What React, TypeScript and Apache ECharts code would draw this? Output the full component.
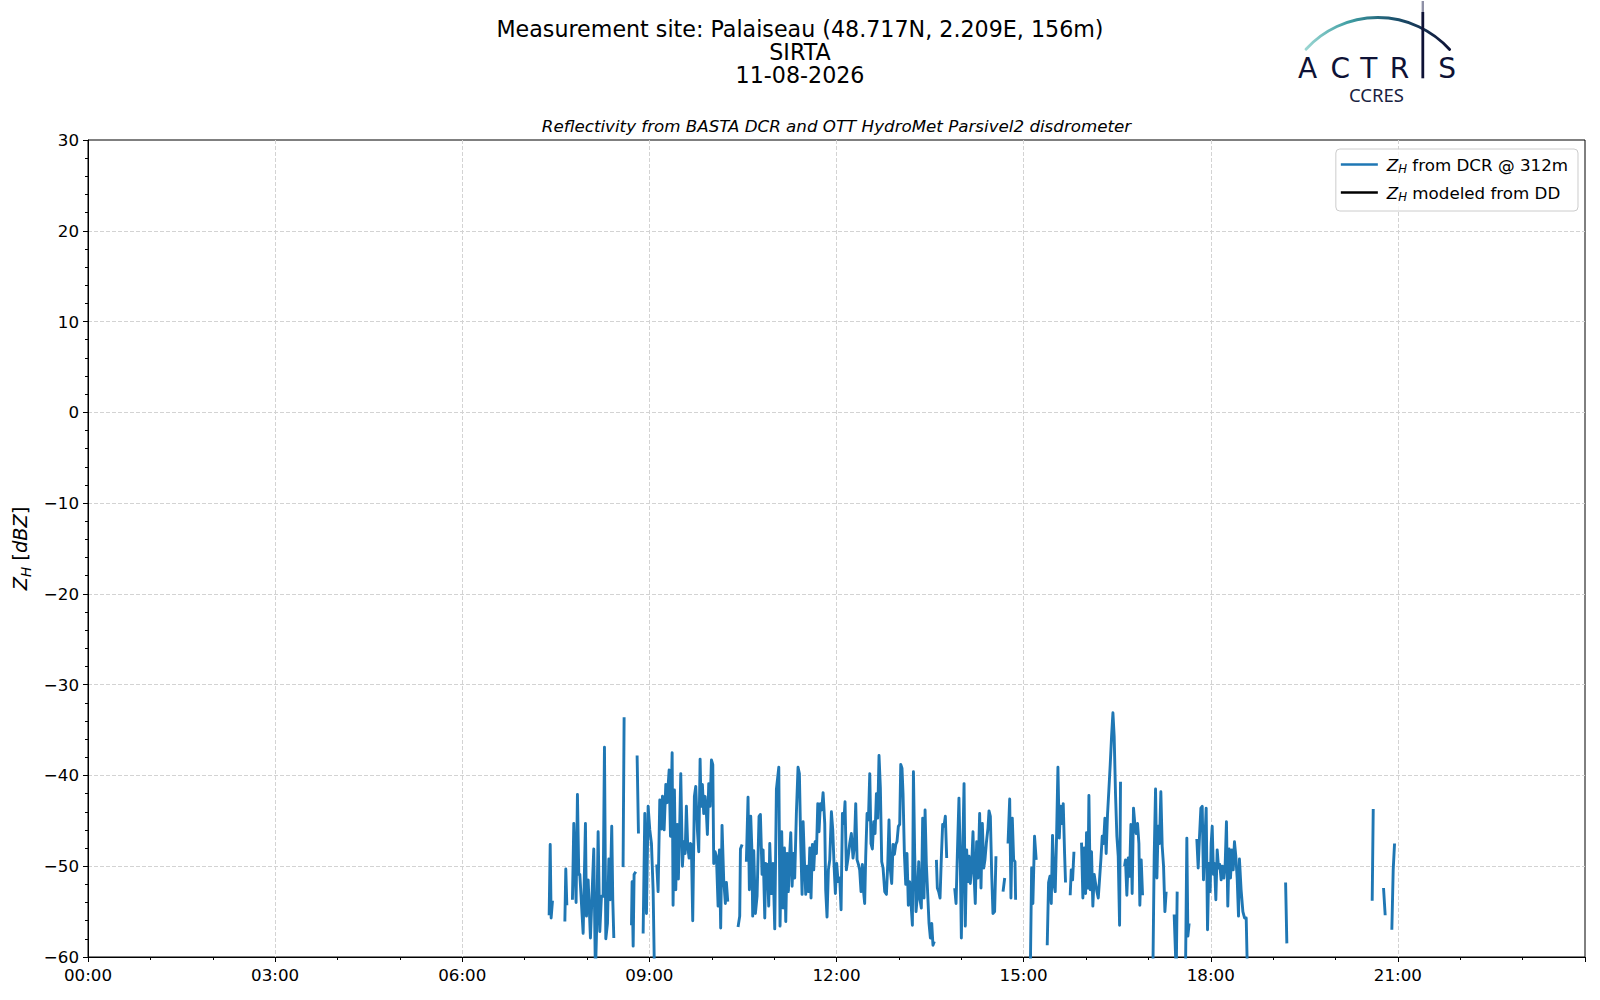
import React, { useEffect, useRef } from "react";
import * as echarts from "echarts";

// ---- tick labels ----
const xTickLabels = ["00:00", "03:00", "06:00", "09:00", "12:00", "15:00", "18:00", "21:00"];
const yTicks = [-60, -50, -40, -30, -20, -10, 0, 10, 20, 30];

// ---- title texts ----
const titleLines = ["Measurement site: Palaiseau (48.717N, 2.209E, 156m)", "SIRTA", "11-08-2026"];
const subTitle = "Reflectivity from BASTA DCR and OTT HydroMet Parsivel2 disdrometer";

// ---- Z_H from DCR @ 312m : [minutes since 00:00, dBZ] (segments separated by gaps) ----
const dcrSeg01 = [[443.6, -55.4], [444.6, -47.6], [445.5, -55.7], [446.8, -53.8]];
const dcrSeg02 = [[458.7, -56.1], [459.6, -50.3], [460.6, -54.3]];
const dcrSeg03 = [[466.0, -53.7], [467.3, -45.3], [469.5, -54.0], [470.8, -42.1], [472.1, -50.9], [473.1, -50.9], [476.3, -57.4], [478.5, -45.3], [479.5, -55.5], [481.1, -51.5], [483.3, -57.9], [486.5, -48.1], [488.1, -62], [489.4, -56.3], [490.7, -46.2], [492.3, -57.2], [493.9, -53.3], [495.5, -53.3], [496.8, -36.9], [498.1, -58.0], [499.7, -56.3], [501.0, -49.2], [502.2, -53.7], [503.8, -45.6], [504.8, -53.7], [505.8, -57.9]];
const dcrSeg04 = [[514.7, -50.1], [515.7, -33.6]];
const dcrSeg05 = [[522.8, -56.5], [523.4, -51.7], [524.4, -58.8], [525.3, -50.9], [526.9, -50.6]];
const dcrSeg06 = [[528.2, -37.8], [529.5, -46.4]];
const dcrSeg07 = [[534.0, -57.4], [535.6, -44.2], [537.2, -55.2], [538.8, -43.4], [540.4, -46.0], [542.0, -47.5], [543.6, -52.6], [544.9, -62]];
const dcrSeg08 = [[547.1, -49.8], [548.4, -52.8], [550.0, -42.7], [551.6, -45.9], [552.6, -42.3], [554.2, -46.0], [555.8, -41.0], [557.0, -43.0], [559.0, -39.4], [560.3, -46.7], [561.9, -37.5], [562.8, -54.3], [564.1, -41.6], [565.4, -52.6], [566.7, -45.4], [567.9, -51.4], [569.2, -45.4], [570.2, -39.8], [571.8, -50.0], [573.1, -47.3], [574.4, -48.6], [575.6, -43.4], [576.9, -47.8], [578.2, -49.1], [579.5, -47.5], [580.4, -47.6], [581.7, -56.0], [583.3, -42.3], [584.6, -41.2], [586.2, -46.0], [587.5, -48.4], [588.8, -38.2], [589.7, -43.4], [591.0, -41.0], [592.3, -44.2], [593.6, -42.3], [594.9, -44.3], [595.8, -46.5], [597.1, -40.9], [598.4, -43.4], [599.7, -38.3], [601.0, -38.8], [601.9, -49.7], [603.2, -48.4], [604.5, -48.9], [606.1, -54.4], [607.4, -48.2], [608.6, -56.8], [609.9, -45.5], [611.5, -51.5], [613.1, -54.1], [614.1, -51.8], [615.4, -53.9]];
const dcrSeg09 = [[625.3, -56.7], [626.9, -55.5], [627.6, -48.1], [629.2, -47.6]];
const dcrSeg10 = [[633.3, -49.5], [634.9, -42.4], [636.2, -52.6], [637.5, -44.5], [638.5, -47.8], [639.4, -55.5], [640.4, -48.3], [642.0, -55.2], [643.6, -53.3], [645.5, -44.5], [646.8, -44.3], [648.4, -50.9], [649.4, -48.2], [651.0, -55.7], [651.9, -49.7], [653.5, -49.8], [654.8, -54.4], [655.8, -47.5], [657.4, -53.0], [659.0, -49.7], [660.6, -56.9], [662.2, -41.5], [664.5, -39.1], [665.7, -56.6], [667.3, -46.2], [668.6, -54.6], [669.9, -48.0], [671.2, -56.1], [672.5, -48.6], [673.7, -52.8], [675.0, -48.6], [676.0, -46.3], [677.3, -52.2], [678.6, -48.6], [679.8, -51.3], [681.4, -44.2], [683.0, -39.1], [684.3, -39.8], [685.6, -47.5], [686.9, -53.1], [687.9, -45.1], [689.1, -49.3], [690.4, -53.1], [691.7, -50.0], [693.0, -52.8], [694.3, -48.0], [695.5, -53.5], [696.8, -47.6], [698.1, -50.4], [699.4, -47.3], [700.7, -48.6], [702.0, -43.1], [703.2, -46.2], [704.5, -43.1], [705.8, -43.8], [707.1, -41.9], [708.7, -45.3], [709.6, -52.6], [710.9, -55.6], [712.2, -50.4], [713.5, -49.3], [715.1, -44.0], [716.4, -46.0], [717.7, -50.0], [718.9, -53.0], [720.2, -49.7], [721.5, -51.7], [723.1, -51.3], [724.4, -54.8], [725.7, -44.2], [727.0, -45.3], [728.2, -42.9], [729.5, -50.4], [731.1, -49.1], [732.7, -47.5], [734.3, -46.4], [735.9, -49.1], [737.2, -47.8], [738.5, -43.1], [739.8, -49.3], [741.1, -49.8], [742.3, -50.4], [743.6, -52.8], [744.9, -49.8], [746.2, -53.0], [747.1, -54.1], [748.1, -48.9], [749.4, -44.2], [750.7, -44.9], [752.0, -39.8], [753.2, -47.5], [754.5, -48.1], [755.8, -45.1], [757.1, -46.4], [758.4, -42.0], [759.6, -44.7], [760.9, -37.8], [762.2, -41.4], [763.5, -49.5], [764.8, -50.2], [766.4, -52.8], [768.0, -53.1], [769.3, -49.8], [770.5, -44.9], [771.8, -50.4], [773.1, -51.9], [774.4, -47.6], [775.7, -48.7], [777.0, -47.6], [778.2, -47.3], [779.5, -45.6], [780.8, -45.4], [781.8, -38.8], [783.0, -39.2], [784.0, -42.0], [785.3, -48.6], [786.6, -52.0], [787.8, -48.6], [789.1, -54.3], [790.4, -51.7], [791.7, -54.1], [793.0, -56.5], [794.0, -39.6], [795.2, -48.6], [796.5, -55.0], [797.8, -53.2], [799.1, -49.5], [800.3, -53.7], [801.6, -54.6], [802.9, -44.7], [804.2, -53.5], [805.2, -43.8], [806.4, -49.7], [807.7, -53.0], [809.0, -56.3], [810.3, -57.9], [811.6, -56.3], [812.8, -58.7], [814.1, -58.3]];
const dcrSeg11 = [[816.1, -49.3], [817.0, -52.4], [818.3, -52.8], [819.6, -53.5], [820.9, -48.9], [822.1, -45.4], [823.4, -45.6], [824.7, -44.5], [826.0, -49.1]];
const dcrSeg12 = [[833.7, -52.4], [835.0, -54.1], [836.2, -48.9], [837.8, -42.5], [839.1, -49.7], [840.1, -57.9], [841.7, -46.7], [842.7, -40.9], [843.9, -56.6], [845.2, -48.2], [846.5, -51.7], [847.5, -48.9], [848.7, -51.9], [850.0, -50.0], [851.3, -46.2], [852.3, -50.9], [853.5, -54.1], [854.8, -47.3], [856.1, -51.3], [857.7, -44.2], [859.0, -52.4], [860.3, -45.3], [861.6, -50.2], [862.8, -49.3], [864.1, -47.5], [865.7, -45.8], [866.7, -43.9], [868.0, -44.5], [869.3, -50.9], [870.5, -55.2], [872.1, -55.0], [873.4, -48.9]];
const dcrSeg13 = [[880.2, -52.8], [881.8, -51.3]];
const dcrSeg14 = [[885.0, -47.5], [886.6, -42.6], [887.8, -53.5], [889.1, -44.7], [890.4, -49.3], [891.7, -49.5], [892.3, -53.7]];
const dcrSeg15 = [[906.4, -62], [907.7, -50.2], [908.9, -54.1], [910.5, -46.7], [912.1, -49.3]];
const dcrSeg16 = [[922.7, -58.7], [924.0, -51.8], [925.3, -51.1], [926.6, -54.1], [927.8, -46.6], [929.1, -51.9], [930.4, -52.8], [931.7, -46.7], [933.0, -39.1], [934.3, -46.9], [935.5, -43.4], [936.8, -45.3], [938.1, -43.1], [939.4, -48.6], [940.3, -51.8]];
const dcrSeg17 = [[944.8, -53.2], [945.8, -50.4], [947.1, -51.5], [948.4, -48.4]];
const dcrSeg18 = [[955.7, -47.4], [957.0, -53.5], [958.3, -48.0], [959.6, -53.0], [960.5, -46.3], [961.8, -52.4], [962.8, -42.2], [964.1, -52.6], [965.3, -48.4], [966.6, -54.4], [967.9, -50.9], [969.2, -51.9], [970.5, -52.8], [971.8, -53.5], [973.0, -51.5], [974.3, -49.3], [975.6, -46.7], [976.9, -47.5], [978.2, -44.7], [979.4, -48.6], [980.7, -44.3], [982.0, -41.6], [983.3, -38.8], [984.6, -35.7], [985.9, -33.1], [987.1, -35.7], [988.4, -42.1], [989.7, -46.7], [991.0, -48.9], [992.3, -56.5], [993.2, -40.7]];
const dcrSeg19 = [[997.1, -50.0], [998.0, -49.3], [999.3, -53.2], [1000.6, -49.1], [1001.9, -51.1], [1003.2, -45.4], [1004.4, -53.0], [1005.7, -43.6], [1007.0, -45.4], [1008.3, -46.4], [1009.6, -45.3], [1010.9, -47.5], [1011.8, -54.3], [1013.1, -49.3], [1014.4, -53.2]];
const dcrSeg20 = [[1024.3, -62], [1025.6, -48.9], [1026.9, -41.5], [1028.2, -51.3], [1029.4, -45.6], [1030.7, -47.5], [1032.0, -41.8], [1033.3, -47.8], [1034.6, -50.0], [1035.9, -55.0], [1037.1, -52.8]];
const dcrSeg21 = [[1044.8, -55.3], [1046.8, -62], [1047.7, -52.8]];
const dcrSeg22 = [[1055.7, -62], [1057.0, -46.9], [1058.0, -57.7], [1059.2, -56.3]];
const dcrSeg23 = [[1066.6, -47.0], [1067.9, -50.2], [1069.2, -46.7], [1070.5, -43.6], [1071.8, -43.4], [1073.0, -51.5], [1074.3, -47.3], [1075.6, -43.6], [1076.9, -57.0], [1078.2, -49.7], [1079.4, -52.8], [1080.4, -47.5], [1081.4, -45.6], [1082.6, -50.9], [1083.6, -49.7], [1084.9, -53.7], [1086.2, -48.2], [1087.5, -50.2], [1088.7, -49.8], [1090.0, -51.5], [1091.3, -50.0], [1092.6, -51.3], [1093.9, -49.7], [1095.1, -45.1], [1096.4, -54.4], [1097.7, -48.1], [1099.0, -51.3], [1100.3, -48.2], [1101.6, -50.4], [1102.8, -47.3], [1104.1, -48.9], [1105.4, -51.3], [1106.7, -55.5], [1107.6, -49.2], [1109.2, -52.6], [1110.9, -55.0], [1112.5, -55.7], [1114.1, -55.7], [1115.3, -62]];
const dcrSeg24 = [[1152.0, -51.8], [1153.2, -58.5]];
const dcrSeg25 = [[1235.3, -53.8], [1236.3, -43.7]];
const dcrSeg26 = [[1246.2, -52.4], [1247.8, -55.4]];
const dcrSeg27 = [[1254.2, -57.0], [1255.5, -50.4], [1256.8, -47.5]];

// ---- Z_H modeled from DD : no data this day ----
const ddData: number[][] = [];

const dcrSegments = [
  dcrSeg01, dcrSeg02, dcrSeg03, dcrSeg04, dcrSeg05, dcrSeg06, dcrSeg07, dcrSeg08, dcrSeg09,
  dcrSeg10, dcrSeg11, dcrSeg12, dcrSeg13, dcrSeg14, dcrSeg15, dcrSeg16, dcrSeg17, dcrSeg18,
  dcrSeg19, dcrSeg20, dcrSeg21, dcrSeg22, dcrSeg23, dcrSeg24, dcrSeg25, dcrSeg26, dcrSeg27,
];

const FONT = "DejaVu Sans";
const NAVY = "#0e1236";

function buildDcrData() {
  const out: any[] = [];
  dcrSegments.forEach((seg, i) => {
    if (i > 0) out.push([seg[0][0] - 0.3, null]);
    seg.forEach((p) => out.push([p[0], p[1]]));
  });
  return out;
}

const legendNames: Record<string, string> = {
  dcr: "{z|Z}{h|H}{t| from DCR @ 312m}",
  dd: "{z|Z}{h|H}{t| modeled from DD}",
};

function makeRich(size: number, lh: number) {
  return {
    z: { fontFamily: FONT, fontStyle: "italic", fontSize: size, lineHeight: lh, verticalAlign: "middle", color: "#000" },
    h: { fontFamily: FONT, fontStyle: "italic", fontSize: size * 0.7, lineHeight: lh, verticalAlign: "bottom", color: "#000" },
    t: { fontFamily: FONT, fontSize: size, lineHeight: lh, verticalAlign: "middle", color: "#000" },
  };
}

function buildOption() {
  const arcGrad = new echarts.graphic.LinearGradient(0, 0, 1, 0, [
    { offset: 0, color: "#9ad6d2" },
    { offset: 0.3, color: "#3f9ea3" },
    { offset: 0.6, color: "#1d5570" },
    { offset: 1, color: NAVY },
  ]);
  const letters = [
    { ch: "A", x: 1307.5 },
    { ch: "C", x: 1340.3 },
    { ch: "T", x: 1368.7 },
    { ch: "R", x: 1399.5 },
    { ch: "S", x: 1447.2 },
  ];
  const titleY = [28.6, 51.9, 75.2];

  return {
    animation: false,
    backgroundColor: "#ffffff",
    textStyle: { fontFamily: FONT },
    grid: {
      left: 88,
      right: 15,
      top: 140,
      bottom: 43,
      show: true,
      borderColor: "#000",
      borderWidth: 1,
      backgroundColor: "transparent",
      containLabel: false,
    },
    legend: {
      orient: "vertical",
      right: 22,
      top: 149,
      padding: [7, 10, 8, 5],
      itemGap: 9,
      itemWidth: 37,
      itemHeight: 2.6,
      icon: "rect",
      backgroundColor: "rgba(255,255,255,0.8)",
      borderColor: "#cccccc",
      borderWidth: 1,
      borderRadius: 4,
      selectedMode: false,
      data: ["dcr", "dd"],
      formatter: (n: string) => legendNames[n],
      textStyle: { fontFamily: FONT, fontSize: 16.7, color: "#000", padding: [0, 0, 0, 4], rich: makeRich(16.7, 21) },
    },
    xAxis: {
      type: "value",
      min: 0,
      max: 1440,
      interval: 180,
      axisLine: { show: true, onZero: false, lineStyle: { color: "#000", width: 1 } },
      axisTick: { show: true, length: 5, inside: false, lineStyle: { color: "#000", width: 1 } },
      minorTick: { show: true, splitNumber: 3, length: 3, lineStyle: { color: "#000", width: 1 } },
      splitLine: { show: true, showMinLine: false, showMaxLine: false, lineStyle: { color: "#d3d3d3", width: 1, type: [4, 2] } },
      minorSplitLine: { show: false },
      axisLabel: {
        margin: 9,
        color: "#000",
        fontFamily: FONT,
        fontSize: 16.7,
        showMaxLabel: false,
        formatter: (v: number) => (v % 180 === 0 && v < 1440 ? xTickLabels[v / 180] : ""),
      },
    },
    yAxis: {
      type: "value",
      min: yTicks[0],
      max: yTicks[yTicks.length - 1],
      interval: 10,
      name: "{z|Z}{h|H}{t| [}{z|dBZ}{t|]}",
      nameLocation: "middle",
      nameRotate: 90,
      nameGap: 44,
      nameTextStyle: { fontFamily: FONT, fontSize: 19.4, color: "#000", rich: makeRich(19.4, 25) },
      axisLine: { show: true, onZero: false, lineStyle: { color: "#000", width: 1 } },
      axisTick: { show: true, length: 5, inside: false, lineStyle: { color: "#000", width: 1 } },
      minorTick: { show: true, splitNumber: 5, length: 3, lineStyle: { color: "#000", width: 1 } },
      splitLine: { show: true, showMinLine: false, showMaxLine: false, lineStyle: { color: "#d3d3d3", width: 1, type: [4, 2] } },
      minorSplitLine: { show: false },
      axisLabel: {
        margin: 9,
        color: "#000",
        fontFamily: FONT,
        fontSize: 16.7,
        formatter: (v: number) => (v < 0 ? "\u2212" + String(-v) : String(v)),
      },
    },
    series: [
      {
        name: "dcr",
        type: "line",
        data: buildDcrData(),
        showSymbol: false,
        symbol: "none",
        connectNulls: false,
        clip: true,
        itemStyle: { color: "#1f77b4" },
        lineStyle: { color: "#1f77b4", width: 2.9, join: "round", cap: "butt" },
        z: 3,
      },
      {
        name: "dd",
        type: "line",
        data: ddData,
        showSymbol: false,
        symbol: "none",
        itemStyle: { color: "#000" },
        lineStyle: { color: "#000", width: 2 },
      },
    ],
    graphic: [
      ...titleLines.map((t, i) => ({
        type: "text",
        x: 800,
        y: titleY[i],
        style: {
          text: t,
          fontFamily: FONT,
          fontSize: 22.2,
          lineHeight: 22,
          fill: "#000",
          align: "center",
          verticalAlign: "middle",
        },
      })),
      {
        type: "text",
        x: 836.5,
        y: 126,
        style: {
          text: subTitle,
          fontFamily: FONT,
          fontStyle: "italic",
          fontSize: 16.7,
          fill: "#000",
          align: "center",
          verticalAlign: "middle",
        },
      },
      {
        type: "arc",
        shape: { cx: 1377.7, cy: 114.5, r: 97, startAngle: -2.403, endAngle: -0.735, clockwise: true },
        style: { stroke: arcGrad, lineWidth: 2.8, fill: null, lineCap: "round" },
      },
      {
        type: "line",
        shape: { x1: 1422.8, y1: 12, x2: 1422.8, y2: 78.3 },
        style: { stroke: NAVY, lineWidth: 2.8 },
      },
      {
        type: "line",
        shape: { x1: 1422.8, y1: 1, x2: 1422.8, y2: 12 },
        style: { stroke: "#8e90a6", lineWidth: 2.4 },
      },
      ...letters.map((l) => ({
        type: "text",
        x: l.x,
        y: 68,
        style: {
          text: l.ch,
          fontFamily: FONT,
          fontSize: 28,
          lineHeight: 20,
          fill: NAVY,
          align: "center",
          verticalAlign: "middle",
        },
      })),
      {
        type: "text",
        x: 1376.5,
        y: 94.5,
        style: {
          text: "CCRES",
          fontFamily: "Noto Sans",
          fontSize: 18.5,
          lineHeight: 15,
          fill: "#1a1f42",
          align: "center",
          verticalAlign: "middle",
        },
      },
    ],
  };
}

export default function App() {
  const ref = useRef<HTMLDivElement>(null);
  useEffect(() => {
    if (!ref.current) return;
    const chart = echarts.init(ref.current, null, { renderer: "svg" });
    chart.setOption(buildOption() as any);
    return () => chart.dispose();
  }, []);
  return (
    <div
      ref={ref}
      style={{ position: "absolute", left: 0, top: 0, width: 1600, height: 1000, background: "#fff" }}
    />
  );
}
